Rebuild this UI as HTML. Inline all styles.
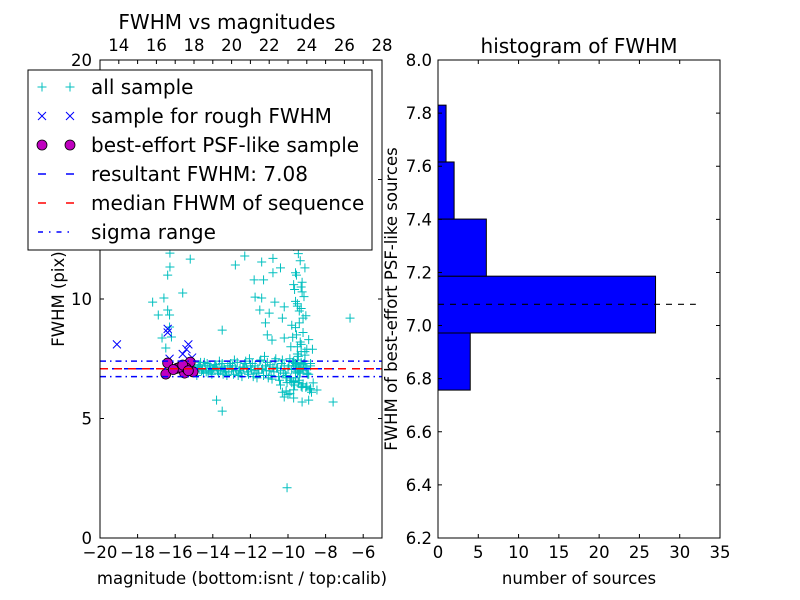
<!DOCTYPE html>
<html><head><meta charset="utf-8">
<style>
html,body{margin:0;padding:0;background:#fff;}
svg{display:block;font-family:"DejaVu Sans","Liberation Sans",sans-serif;}
</style></head>
<body>
<svg id="fig" width="800" height="600" viewBox="0 0 800 600" xmlns="http://www.w3.org/2000/svg">
<rect x="0" y="0" width="800" height="600" fill="#fff"/>
<g id="left"></g>
<g id="right"></g>
</svg>
<script>
// ---- scatter data (magnitude, FWHM) ----
const allMag = [-16.28,-16.28,-16.4,-15.2,-17.2,-16.6,-15.6,-16.4,-16.9,-16.3,-16.3,-16.7,-16.2,-16.5,-13.5,-12.8,-12.3,-11.8,-11.3,-11.4,-10.8,-10.8,-10.4,-11.75,-11.4,-11.5,-11.0,-10.7,-10.3,-11.2,-11.1,-10.85,-10.2,-10.2,-6.7,-13.8,-13.5,-7.6,-10.2,-9.7,-9.25,-8.9,-8.46,-8.66,-10.05,
-9.8,-9.6,-9.4,-9.3,-9.5,-9.2,-9.0,-9.7,-9.45,-9.35,-9.1,-9.55,-9.25,-9.65,-9.15,-9.5,-9.3,-9.05,-9.4,-9.6,-9.2,-9.75,-9.35,-9.5,-9.1,-9.45,-9.0,-9.3,-9.55,-9.8,-9.2,-9.4,-9.6,-9.25,-9.7,-9.5,-9.35,-9.15,-8.9,-9.05,
-9.6,-9.3,-9.5,-9.4,-9.7,-9.2,-9.45,-9.35,
-15.0,-14.8,-14.6,-14.4,-14.2,-14.0,-13.8,-13.6,-13.4,-13.2,-13.0,-12.8,-12.6,-12.4,-12.2,-12.0,-11.8,-11.6,-11.4,-11.2,-11.0,-10.8,-10.6,-10.4,-10.2,-10.0,-9.8,-9.6,-9.4,-9.2,-9.0,-8.8,
-14.9,-14.7,-14.5,-14.3,-14.1,-13.9,-13.7,-13.5,-13.3,-13.1,-12.9,-12.7,-12.5,-12.3,-12.1,-11.9,-11.7,-11.5,-11.3,-11.1,-10.9,-10.7,-10.5,-10.3,-10.1,-9.9,-9.7,-9.5,-9.3,-9.1,-8.9,
-14.85,-14.45,-14.05,-13.65,-13.25,-12.85,-12.45,-12.05,-11.65,-11.25,-10.85,-10.45,-10.05,-9.65,-9.25,-8.85,
-10.3,-10.0,-9.8,-9.6,-9.4,-9.2,-9.0,-8.8,-10.1,-9.9,-9.7,-9.5,-9.3,-9.1,-8.9,-8.7,-9.85,-9.45,-9.05,-9.6,-9.2,-8.8,
-14.95,-14.75,-14.55,-14.35,-14.15,-13.95,-13.75,-13.55,-13.35,-13.15,-12.95,-12.75,-12.55,-12.35,-12.15,-11.95,-11.75,-11.55,-11.35,-11.15,-10.95,-10.75,-10.55,-10.35,-10.15,-9.95,-9.75,-9.55,-9.35,-9.15,-8.95,
-14.65,-14.25,-13.85,-13.45,-13.05,-12.65,-12.25,-11.85,-11.45,-11.05,-10.65,-10.25,-9.85,-9.45,-9.05,-8.75,
-10.4,-10.1,-9.9,-9.7,-9.5,-9.3,-9.1,-8.9,-8.8,-9.2,-9.6];
const allFwhm = [11.92,11.34,11.0,11.67,9.87,10.04,10.25,9.54,9.33,9.33,8.83,8.37,8.41,7.95,8.7,11.42,11.8,10.8,10.8,11.55,11.7,11.1,11.3,10.08,10.04,9.54,9.41,9.87,9.2,9.0,8.5,8.28,8.37,9.67,9.2,5.77,5.31,5.69,5.9,5.86,5.69,5.77,6.19,6.49,2.1,
15.9,15.2,14.6,14.0,13.4,12.9,12.5,12.2,11.9,11.6,11.3,11.0,10.7,10.4,10.1,9.8,9.6,9.3,9.0,8.8,8.6,8.4,8.2,8.0,7.8,7.6,7.9,8.1,8.5,8.9,9.2,9.5,9.9,10.3,10.6,
13.1,12.7,13.7,14.3,12.3,11.1,10.5,9.7,
7.1,7.2,7.0,7.15,7.05,7.2,7.1,7.0,7.2,7.1,7.05,7.15,7.0,7.1,7.2,7.05,7.1,7.0,7.15,7.1,7.2,7.0,7.1,7.05,7.2,7.0,7.15,7.1,7.0,7.2,7.1,7.05,
7.3,6.95,7.25,6.9,7.3,6.95,7.25,6.9,7.3,7.0,7.25,6.9,7.3,6.95,7.2,6.85,7.35,6.9,7.3,6.85,7.3,6.9,7.4,6.8,7.35,6.8,7.4,6.75,7.45,6.7,7.5,
7.4,7.45,7.35,7.4,6.85,6.8,7.35,6.85,7.4,6.8,7.45,6.75,7.5,6.7,7.6,6.65,
6.6,6.5,6.4,6.3,6.2,6.1,6.0,6.5,6.7,6.6,6.45,6.35,6.25,6.15,6.05,6.55,7.7,7.8,7.65,8.3,7.9,8.0,
7.0,7.15,6.95,7.1,7.2,7.0,7.15,7.05,6.95,7.2,7.1,7.0,7.15,7.05,6.95,7.2,7.0,7.1,7.15,6.95,7.05,7.2,6.9,7.1,7.0,7.25,6.95,7.1,7.3,6.9,7.2,
7.35,7.25,6.9,7.3,6.85,7.35,6.9,7.25,6.85,7.3,6.8,7.4,6.75,7.45,6.7,7.5,
6.9,6.7,6.5,6.3,6.1,6.4,6.8,6.6,6.2,6.9,6.35];
const roughMag = [-19.1,-16.4,-16.4,-15.3,-15.6,-15.4,-15.1,-16.3];
const roughFwhm = [8.1,8.75,8.6,8.1,7.7,7.9,7.55,7.5];
const bestMag = [-16.4,-16.5,-15.9,-15.5,-15.2,-15.05,-15.75,-15.4,-15.6,-16.1,-15.3];
const bestFwhm = [7.32,6.86,7.1,6.9,7.36,6.95,7.15,7.1,7.24,7.05,7.0];
const resultFwhm = 7.08, sigLo = 6.75, sigHi = 7.4, medianFwhm = 7.08;
const xTicks = [-20,-18,-16,-14,-12,-10,-8,-6];
const topTicks = [14,16,18,20,22,24,26,28];
const yTicks = [0,5,10,15,20];
// ---- histogram data ----
const binEdges = [6.757,6.972,7.186,7.401,7.616,7.830];
const binCounts = [4,27,6,2,1];
const histX = [0,5,10,15,20,25,30,35];
const histY = [6.2,6.4,6.6,6.8,7.0,7.2,7.4,7.6,7.8,8.0];

const NS="http://www.w3.org/2000/svg";
function mk(parent,tag,attrs,text){const e=document.createElementNS(NS,tag);for(const k in attrs)e.setAttribute(k,attrs[k]);if(text!==undefined)e.textContent=text;parent.appendChild(e);return e;}
const fmt=v=>(v<0?"\u2212"+Math.abs(v):""+v);
const TS=16.5, AS=16.5, TT=20;

// ---- left axes ----
const L=document.getElementById('left');
const lx0=100,lx1=382,ly0=60,ly1=538;
const sx=m=>lx0+(m+20)/15*(lx1-lx0);
const sy=f=>ly1-f/20*(ly1-ly0);
const stx=t=>lx0+(t-13.0)/15*(lx1-lx0);
const pts=mk(L,'g',{});


for(let i=0;i<allMag.length;i++){const x=sx(allMag[i]),y=sy(allFwhm[i]);if(y<ly0)continue;
 const p=mk(pts,'path',{d:`M${x-4.5},${y}H${x+4.5}M${x},${y-4.5}V${y+4.5}`,stroke:'#00bfbf','stroke-width':1});
 
 }
const rg=mk(L,'g',{});


for(let i=0;i<roughMag.length;i++){const x=sx(roughMag[i]),y=sy(roughFwhm[i]);
 const p=mk(rg,'path',{d:`M${x-4},${y-4}L${x+4},${y+4}M${x-4},${y+4}L${x+4},${y-4}`,stroke:'#0000ff','stroke-width':1});
 
 }
const bg=mk(L,'g',{});


for(let i=0;i<bestMag.length;i++){
 const c=mk(bg,'circle',{cx:sx(bestMag[i]),cy:sy(bestFwhm[i]),r:5,fill:'#bf00bf',stroke:'#000','stroke-width':0.8});
 
 }
function hline(g,f,color,dash,name){const l=mk(g,'line',{x1:lx0,x2:lx1,y1:sy(f),y2:sy(f),stroke:color,'stroke-width':1.5,'stroke-dasharray':dash});
 
 }
hline(L,resultFwhm,'#0000ff','6,6','resultant-fwhm-line');
hline(L,medianFwhm,'#ff0000','8,6','median-fwhm-line');
hline(L,sigHi,'#0000ff','6,4,1.5,4','sigma-upper-line');
hline(L,sigLo,'#0000ff','6,4,1.5,4','sigma-lower-line');
mk(L,'rect',{x:lx0,y:ly0,width:lx1-lx0,height:ly1-ly0,fill:'none',stroke:'#000','stroke-width':1});
for(const t of xTicks){const x=sx(t);mk(L,'path',{d:`M${x},${ly1}v-4M${x},${ly0}v4`,stroke:'#000'});
 const tx=mk(L,'text',{x:x,y:ly1+20,'text-anchor':'middle','font-size':TS},fmt(t));
 
 }
for(const t of topTicks){const x=stx(t);mk(L,'path',{d:`M${x},${ly0}v4`,stroke:'#000'});
 const tx=mk(L,'text',{x:x,y:ly0-9,'text-anchor':'middle','font-size':TS},t);
 
 }
for(const t of yTicks){const y=sy(t);mk(L,'path',{d:`M${lx0},${y}h4M${lx1},${y}h-4`,stroke:'#000'});
 const tx=mk(L,'text',{x:lx0-8,y:y+6,'text-anchor':'end','font-size':TS},t);
 
 }
let t1=mk(L,'text',{x:227,y:29,'text-anchor':'middle','font-size':TT},'FWHM vs magnitudes');


let t2=mk(L,'text',{x:242,y:584,'text-anchor':'middle','font-size':AS},'magnitude (bottom:isnt / top:calib)');


let t3=mk(L,'text',{x:64,y:299,'text-anchor':'middle','font-size':AS,transform:'rotate(-90 64 299)'},'FWHM (pix)');


// legend
const lg=mk(L,'g',{});


mk(lg,'rect',{x:28,y:70,width:344,height:180,fill:'#fff',stroke:'#000','stroke-width':1});
const labels=['all sample','sample for rough FWHM','best-effort PSF-like sample','resultant FWHM: 7.08','median FHWM of sequence','sigma range'];
labels.forEach((lab,i)=>{const y=87+i*29;const e=mk(lg,'g',{});
 
 
 for(const x of [42,70]){
  if(i===0)mk(e,'path',{d:`M${x-4.5},${y}H${x+4.5}M${x},${y-4.5}V${y+4.5}`,stroke:'#00bfbf'});
  if(i===1)mk(e,'path',{d:`M${x-4},${y-4}L${x+4},${y+4}M${x-4},${y+4}L${x+4},${y-4}`,stroke:'#0000ff'});
  if(i===2)mk(e,'circle',{cx:x,cy:y,r:5,fill:'#bf00bf',stroke:'#000','stroke-width':0.8});}
 if(i===3)mk(e,'line',{x1:38,x2:74,y1:y,y2:y,stroke:'#0000ff','stroke-width':1.5,'stroke-dasharray':'8,20'});
 if(i===4)mk(e,'line',{x1:38,x2:74,y1:y,y2:y,stroke:'#ff0000','stroke-width':1.5,'stroke-dasharray':'8,20'});
 if(i===5)mk(e,'line',{x1:38,x2:74,y1:y,y2:y,stroke:'#0000ff','stroke-width':1.5,'stroke-dasharray':'5,6,1.5,6'});
 mk(e,'text',{x:91,y:y+7,'font-size':20},lab);});

// ---- right axes ----
const R=document.getElementById('right');
const rx0=438,rx1=720,ry0=60,ry1=538;
const hx=c=>rx0+c/35*(rx1-rx0);
const hy=f=>ry1-(f-6.2)/1.8*(ry1-ry0);
for(let i=0;i<binCounts.length;i++){
 const b=mk(R,'rect',{x:hx(0),y:hy(binEdges[i+1]),width:hx(binCounts[i])-hx(0),height:hy(binEdges[i])-hy(binEdges[i+1]),fill:'#0000ff',stroke:'#000','stroke-width':1});
 
 }
const rl=mk(R,'line',{x1:hx(0),x2:hx(32),y1:hy(resultFwhm),y2:hy(resultFwhm),stroke:'#000','stroke-width':1.2,'stroke-dasharray':'6,6'});


mk(R,'rect',{x:rx0,y:ry0,width:rx1-rx0,height:ry1-ry0,fill:'none',stroke:'#000','stroke-width':1});
for(const t of histX){const x=hx(t);mk(R,'path',{d:`M${x},${ry1}v-4M${x},${ry0}v4`,stroke:'#000'});
 const tx=mk(R,'text',{x:x,y:ry1+20,'text-anchor':'middle','font-size':TS},t);
 
 }
for(const t of histY){const y=hy(t);mk(R,'path',{d:`M${rx0},${y}h4M${rx1},${y}h-4`,stroke:'#000'});
 const tx=mk(R,'text',{x:rx0-6,y:y+6,'text-anchor':'end','font-size':TS},t.toFixed(1));
 
 }
let r1=mk(R,'text',{x:579,y:53,'text-anchor':'middle','font-size':TT},'histogram of FWHM');


let r2=mk(R,'text',{x:579,y:584,'text-anchor':'middle','font-size':AS},'number of sources');


let r3=mk(R,'text',{x:397,y:299,'text-anchor':'middle','font-size':AS,transform:'rotate(-90 397 299)'},'FWHM of best-effort PSF-like sources');


</script>
</body></html>
